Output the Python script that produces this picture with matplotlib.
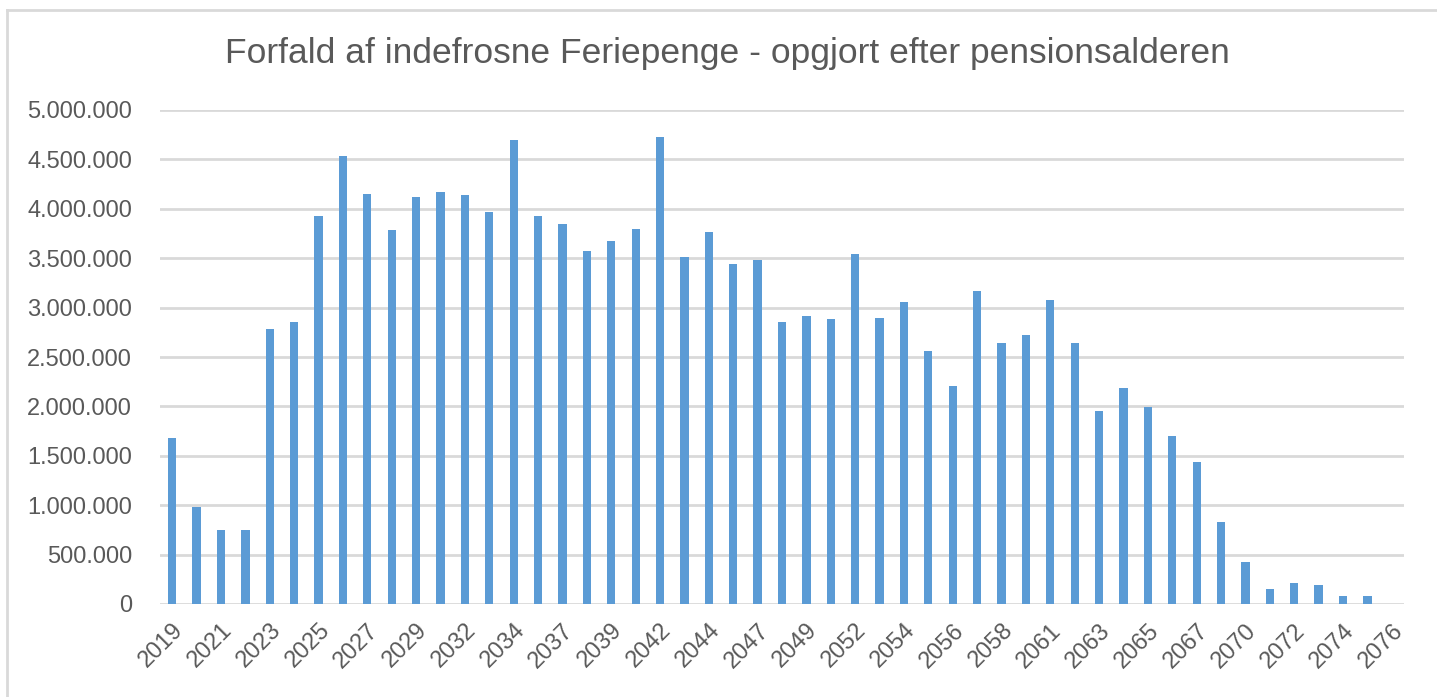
import numpy as np
import matplotlib.pyplot as plt
from matplotlib.lines import Line2D
from matplotlib.ticker import FuncFormatter

plt.rcParams['font.family'] = ['Liberation Sans', 'DejaVu Sans']

# hidden (every other) labels are guesses, only odd positions are shown
years = ['2019', '2020', '2021', '2022', '2023', '2024', '2025', '2026', '2027', '2028',
         '2029', '2031', '2032', '2033', '2034', '2036', '2037', '2038', '2039', '2041',
         '2042', '2043', '2044', '2046', '2047', '2048', '2049', '2051', '2052', '2053',
         '2054', '2055', '2056', '2057', '2058', '2060', '2061', '2062', '2063', '2064',
         '2065', '2066', '2067', '2069', '2070', '2071', '2072', '2073', '2074', '2075',
         '2076']

values = [1680000, 980000, 750000, 750000, 2780000, 2850000, 3930000, 4530000, 4150000, 3790000,
          4120000, 4170000, 4140000, 3970000, 4700000, 3930000, 3850000, 3570000, 3670000, 3800000,
          4730000, 3510000, 3770000, 3440000, 3480000, 2850000, 2920000, 2880000, 3540000, 2890000,
          3060000, 2560000, 2210000, 3170000, 2640000, 2720000, 3080000, 2640000, 1950000, 2190000,
          1990000, 1700000, 1440000, 830000, 430000, 150000, 210000, 190000, 80000, 80000,
          0]

fig = plt.figure(figsize=(14.37, 6.97), dpi=100)
ax = fig.add_axes([160/1437, 1 - 604/697, (1404 - 160)/1437, (604 - 110)/697])

x = np.arange(len(years))
ax.bar(x, values, width=0.34, color='#5b9bd5', zorder=3)

ax.set_xlim(-0.5, len(years) - 0.5)
ax.set_ylim(0, 5000000)
ax.set_yticks(np.arange(0, 5000001, 500000))
ax.yaxis.set_major_formatter(FuncFormatter(lambda v, p: f"{int(v):,}".replace(',', '.')))
ax.grid(axis='y', color='#d9d9d9', linewidth=2, zorder=0)

ax.set_xticks(x[::2])
ax.set_xticklabels(years[::2], rotation=45, ha='right', va='top', rotation_mode='anchor')

for s in ax.spines.values():
    s.set_visible(False)
ax.tick_params(axis='both', length=0, labelsize=17, labelcolor='#595959')
ax.tick_params(axis='y', pad=20)
ax.tick_params(axis='x', pad=11)

fig.text(727/1437, 1 - 54/697, 'Forfald af indefrosne Feriepenge - opgjort efter pensionsalderen',
         ha='center', va='center', fontsize=25.5, color='#595959')

# outer chart frame (only top and left visible in the crop)
fig.add_artist(Line2D([7/1437, 1], [1 - 10/697, 1 - 10/697], color='#d9d9d9', linewidth=2))
fig.add_artist(Line2D([7/1437, 7/1437], [0, 1 - 10/697], color='#d9d9d9', linewidth=2))

plt.savefig('out.png', dpi=100)
